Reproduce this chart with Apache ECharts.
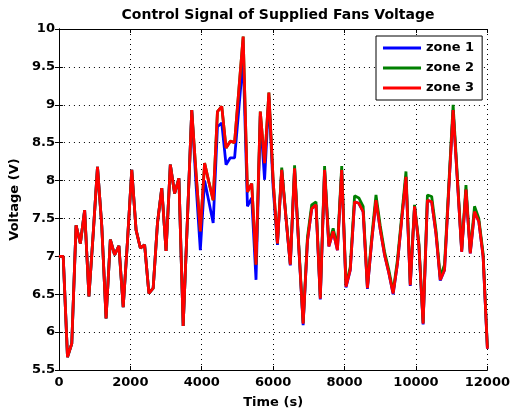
<!DOCTYPE html>
<html>
<head>
<meta charset="utf-8">
<script src="https://cdn.jsdelivr.net/npm/echarts@6/dist/echarts.min.js"></script>
<style>
html,body{margin:0;padding:0;background:#fff;}
#c{width:513px;height:419px;}
</style>
</head>
<body>
<div id="c"></div>
<script>
// Time stamps (s)
var times = [0,120,240,360,480,600,720,840,960,1080,1200,1320,1440,1560,1680,1800,1920,2040,2160,2280,
  2400,2520,2640,2760,2880,3000,3120,3240,3360,3480,3600,3720,3840,3960,4080,4200,4320,4440,4560,4680,
  4800,4920,5040,5160,5280,5400,5520,5640,5760,5880,6000,6120,6240,6360,6480,6600,6720,6840,6960,7080,
  7200,7320,7440,7560,7680,7800,7920,8040,8160,8280,8400,8520,8640,8760,8880,9000,9120,9240,9360,9480,
  9600,9720,9840,9960,10080,10200,10320,10440,10560,10680,10800,10920,11040,11160,11280,11400,11520,11640,11760,11880,12000];

var zone1 = [7.0,7.0,5.67,5.85,7.41,7.17,7.61,6.47,7.3,8.18,7.4,6.18,7.22,7.02,7.14,6.33,7.2,8.14,7.35,7.11,
  7.15,6.51,6.58,7.44,7.90,7.07,8.21,7.83,8.03,6.08,7.5,8.93,7.95,7.08,8.0,7.72,7.44,8.71,8.76,8.21,
  8.30,8.30,8.95,9.62,7.66,7.77,6.69,8.85,8.01,9.1,7.9,7.15,8.14,7.5,6.88,8.16,7.1,6.09,7.2,7.63,
  7.68,6.43,8.14,7.13,7.33,7.08,8.14,6.59,6.82,7.72,7.70,7.59,6.57,7.2,7.74,7.35,7.02,6.78,6.50,6.9,
  7.48,8.05,6.61,7.66,7.15,6.10,7.74,7.72,7.3,6.68,6.82,7.9,8.93,8.0,7.06,7.88,7.04,7.59,7.46,7.0,5.78];

var zone2 = [7.0,7.0,5.67,5.85,7.41,7.17,7.61,6.47,7.3,8.18,7.4,6.18,7.22,7.02,7.14,6.33,7.2,8.14,7.35,7.11,
  7.15,6.51,6.58,7.44,7.90,7.07,8.21,7.83,8.03,6.08,7.5,8.93,8.1,7.33,8.23,7.98,7.74,8.91,8.98,8.43,
  8.52,8.50,9.2,9.90,7.85,7.96,6.89,8.91,8.23,9.16,8.0,7.17,8.17,7.52,6.9,8.2,7.13,6.12,7.25,7.68,
  7.72,6.46,8.19,7.17,7.37,7.13,8.19,6.62,6.86,7.80,7.77,7.66,6.6,7.25,7.81,7.4,7.06,6.82,6.53,6.95,
  7.53,8.12,6.64,7.68,7.18,6.12,7.81,7.79,7.35,6.73,6.89,7.95,9.0,8.05,7.08,7.94,7.06,7.66,7.5,7.04,5.8];

var zone3 = [7.0,7.0,5.67,5.85,7.41,7.17,7.61,6.47,7.3,8.18,7.4,6.18,7.22,7.02,7.14,6.33,7.2,8.14,7.35,7.11,
  7.15,6.51,6.58,7.44,7.90,7.07,8.21,7.83,8.03,6.08,7.5,8.93,8.1,7.33,8.23,7.98,7.74,8.91,8.98,8.43,
  8.52,8.50,9.2,9.90,7.85,7.96,6.89,8.91,8.23,9.16,8.0,7.17,8.14,7.5,6.89,8.16,7.1,6.11,7.2,7.63,
  7.68,6.44,8.14,7.13,7.33,7.08,8.14,6.6,6.82,7.72,7.70,7.59,6.58,7.2,7.74,7.35,7.02,6.78,6.51,6.9,
  7.48,8.05,6.62,7.66,7.15,6.11,7.74,7.72,7.3,6.69,6.82,7.9,8.93,8.0,7.06,7.88,7.04,7.59,7.46,7.0,5.78];

var seriesNames = ['zone 1','zone 2','zone 3'];
var seriesColors = ['#0000ff','#008000','#ff0000'];
var seriesValues = [zone1, zone2, zone3];

var FONT = 'DejaVu Sans';
function pairs(v){ return times.map(function(t,i){ return [t, v[i]]; }); }

var gridLine = {show:true, lineStyle:{color:'#000', width:1, type:[1,4]}};
var chart = echarts.init(document.getElementById('c'), null, {renderer:'canvas'});
chart.setOption({
  animation:false,
  backgroundColor:'#fff',
  title:{
    text:'Control Signal of Supplied Fans Voltage',
    left:273, top:3, textAlign:'center',
    textStyle:{fontFamily:FONT, fontWeight:'bold', fontSize:14, color:'#000'}
  },
  legend:{
    orient:'vertical', left:376, top:36,
    data:seriesNames.map(function(n){ return {name:n, icon:'rect'}; }),
    itemWidth:38, itemHeight:3, itemGap:6,
    padding:[5,8,5,7],
    borderColor:'#000', borderWidth:1, backgroundColor:'#fff',
    textStyle:{fontFamily:FONT, fontWeight:'bold', fontSize:13, color:'#000', lineHeight:14}
  },
  grid:{left:56, top:29, width:435, height:341, containLabel:false},
  xAxis:[{
    type:'value', min:0, max:12000, interval:2000,
    name:'Time (s)', nameLocation:'middle', nameGap:26,
    nameTextStyle:{fontFamily:FONT, fontWeight:'bold', fontSize:13, color:'#000'},
    axisLine:{lineStyle:{color:'#000', width:1}},
    axisTick:{inside:true, length:4, lineStyle:{color:'#000'}},
    axisLabel:{fontFamily:FONT, fontWeight:'bold', fontSize:13, color:'#000', margin:6,
      formatter:function(v){ return String(v); }},
    splitLine:gridLine
  },{
    type:'value', min:0, max:12000, interval:2000, position:'top',
    axisLine:{lineStyle:{color:'#000', width:1}},
    axisTick:{inside:true, length:4, lineStyle:{color:'#000'}},
    axisLabel:{show:false}, splitLine:{show:false}
  }],
  yAxis:[{
    type:'value', min:5.5, max:10, interval:0.5,
    name:'Voltage (V)', nameLocation:'middle', nameGap:33, nameRotate:90,
    nameTextStyle:{fontFamily:FONT, fontWeight:'bold', fontSize:13, color:'#000'},
    axisLine:{show:true, lineStyle:{color:'#000', width:1}},
    axisTick:{show:true, inside:true, length:4, lineStyle:{color:'#000'}},
    axisLabel:{fontFamily:FONT, fontWeight:'bold', fontSize:13, color:'#000', margin:4},
    splitLine:gridLine
  },{
    type:'value', min:5.5, max:10, interval:0.5, position:'right',
    axisLine:{show:true, lineStyle:{color:'#000', width:1}},
    axisTick:{show:true, inside:true, length:4, lineStyle:{color:'#000'}},
    axisLabel:{show:false}, splitLine:{show:false}
  }],
  series: seriesNames.map(function(n, k){
    return {
      name:n, type:'line', xAxisIndex:0, yAxisIndex:0,
      data:pairs(seriesValues[k]),
      symbol:'none', showSymbol:false,
      lineStyle:{color:seriesColors[k], width:2.8},
      itemStyle:{color:seriesColors[k]},
      z:2+k
    };
  })
});
</script>
</body>
</html>
